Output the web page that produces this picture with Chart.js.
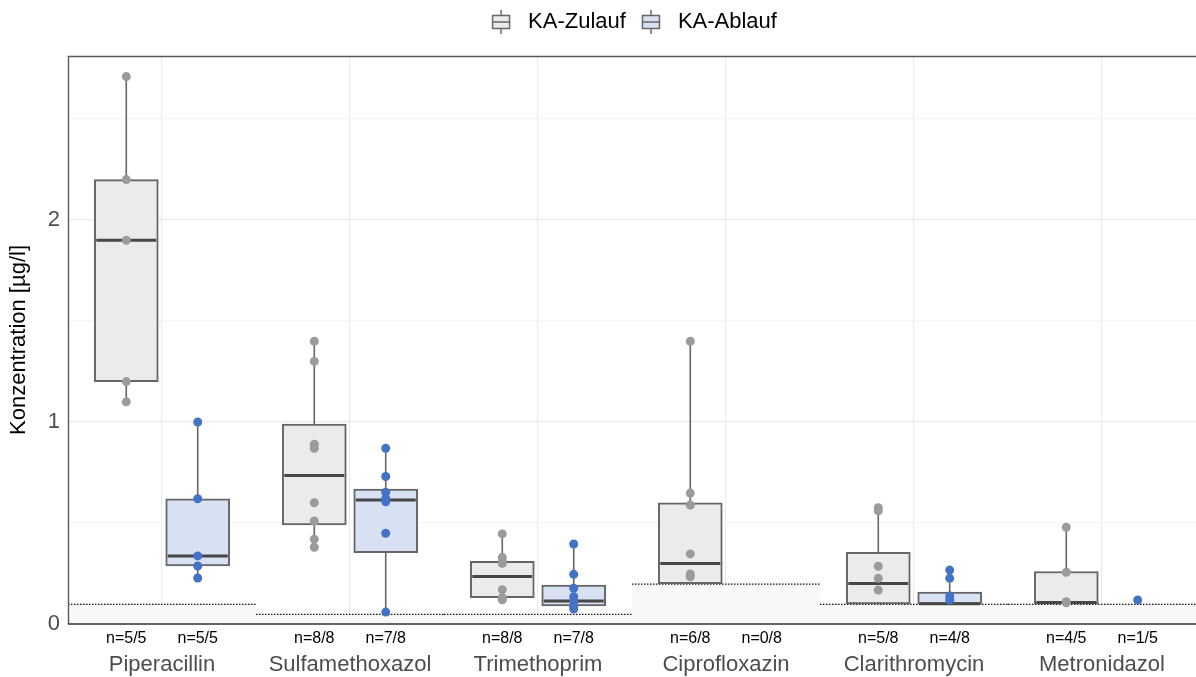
<!DOCTYPE html>
<html>
<head>
<meta charset="utf-8">
<script src="https://cdn.jsdelivr.net/npm/chart.js@4.4.0/dist/chart.umd.min.js"></script>
<style>
html, body { margin: 0; padding: 0; background: #fff; }
</style>
</head>
<body>
<canvas id="chart" width="1196" height="677"></canvas>
<script>
/* ===== Data ===== */

var categories = ['Piperacillin', 'Sulfamethoxazol', 'Trimethoprim', 'Ciprofloxazin', 'Clarithromycin', 'Metronidazol'];
var nZulauf = ['n=5/5', 'n=8/8', 'n=8/8', 'n=6/8', 'n=5/8', 'n=4/5'];
var nAblauf = ['n=5/5', 'n=7/8', 'n=7/8', 'n=0/8', 'n=4/8', 'n=1/5'];
var loq = [0.1, 0.05, 0.05, 0.2, 0.1, 0.1];

var yTicks = [0, 0.5, 1, 1.5, 2, 2.5];

// KA-Zulauf box stats
var zulaufMin = [1.1, 0.38, 0.12, 0.2, 0.1, 0.1];
var zulaufQ1 = [1.2, 0.49, 0.13, 0.2, 0.1, 0.1];
var zulaufMedian = [1.9, 0.735, 0.235, 0.3, 0.2, 0.107];
var zulaufQ3 = [2.2, 0.99, 0.31, 0.6, 0.355, 0.26];
var zulaufMax = [2.71, 1.4, 0.446, 1.4, 0.576, 0.48];

// KA-Ablauf box stats
var ablaufMin = [0.228, 0.06, 0.074, null, 0.1, null];
var ablaufQ1 = [0.288, 0.353, 0.089, null, 0.1, null];
var ablaufMedian = [0.337, 0.614, 0.114, null, 0.1, null];
var ablaufQ3 = [0.62, 0.668, 0.193, null, 0.158, null];
var ablaufMax = [1.0, 0.87, 0.396, null, 0.267, null];

// single measurements
var zulaufPoints = [
    [2.71, 2.2, 1.9, 1.2, 1.1],
    [1.4, 1.3, 0.89, 0.87, 0.6, 0.51, 0.42, 0.38],
    [0.446, 0.33, 0.31, 0.3, 0.17, 0.13, 0.125, 0.12],
    [1.4, 0.648, 0.589, 0.347, 0.248, 0.234],
    [0.576, 0.56, 0.286, 0.226, 0.168],
    [0.479, 0.256, 0.11, 0.105]
];
var ablaufPoints = [
    [1.0, 0.62, 0.337, 0.287, 0.228],
    [0.87, 0.73, 0.652, 0.62, 0.605, 0.449, 0.059],
    [0.396, 0.246, 0.177, 0.135, 0.11, 0.086, 0.074],
    [],
    [0.267, 0.226, 0.139, 0.119],
    [0.119]
];

/* ===== Style ===== */

var OFFSET = 0.19;
var LEGEND_HEIGHT = 56;

var colors = {
    zulaufFill: '#ebebeb',
    ablaufFill: '#d7e1f3',
    boxLine: '#666666',
    median: '#474747',
    zulaufPoint: '#9b9b9b',
    ablaufPoint: '#4472c4',
    text: '#4d4d4d',
    gridMajor: '#ebebeb',
    gridMinor: '#f5f5f5',
    loqFill: '#f8f8f8',
};

Chart.defaults.font.family = '"Liberation Sans", Arial, sans-serif';

/* ===== Helpers ===== */

function boxData(q1, q3, shift) {
    var out = [];
    categories.forEach(function(c, i) {
        if (q1[i] === null) return;
        out.push({ x: i + shift, y: [q1[i], q3[i]] });
    });
    return out;
}

function pointData(points, shift) {
    var out = [];
    points.forEach(function(list, i) {
        list.forEach(function(v) { out.push({ x: i + shift, y: v }); });
    });
    return out;
}

var nPositions = [];
var nTexts = [];
categories.forEach(function(c, i) {
    nPositions.push(i - OFFSET, i + OFFSET);
    nTexts.push(nZulauf[i], nAblauf[i]);
});

// small boxplot key, drawn a little right of the canvas origin
function legendGlyph(fill) {
    var c = document.createElement('canvas');
    c.width = 30;
    c.height = 24;
    var g = c.getContext('2d');
    var cx = 14;
    g.strokeStyle = colors.boxLine;
    g.lineWidth = 1.5;
    g.beginPath(); g.moveTo(cx, 0); g.lineTo(cx, 24); g.stroke();
    g.fillStyle = fill;
    g.fillRect(cx - 8.5, 5.5, 17, 13);
    g.strokeRect(cx - 8.5, 5.5, 17, 13);
    g.beginPath(); g.moveTo(cx - 8.5, 12); g.lineTo(cx + 8.5, 12); g.stroke();
    return c;
}

/* ===== Plugin: LOQ bands, whiskers, medians, panel border ===== */

var boxPlugin = {
    id: 'boxExtras',
    beforeLayout: function(chart) {
        // fixed legend band height
        var legend = chart.legend;
        if (legend && !legend._fixedHeight) {
            var fit = legend.fit;
            legend.fit = function() {
                fit.call(this);
                this.height = LEGEND_HEIGHT;
            };
            legend._fixedHeight = true;
        }
    },
    beforeDatasetsDraw: function(chart) {
        var ctx = chart.ctx, xs = chart.scales.x, ys = chart.scales.y;
        ctx.save();
        loq.forEach(function(v, i) {
            var x0 = xs.getPixelForValue(i - 0.5), x1 = xs.getPixelForValue(i + 0.5);
            var y0 = ys.getPixelForValue(0), y1 = ys.getPixelForValue(v);
            ctx.fillStyle = colors.loqFill;
            ctx.fillRect(x0, y1, x1 - x0, y0 - y1);
            ctx.strokeStyle = '#111111';
            ctx.lineWidth = 1.3;
            ctx.setLineDash([1.5, 1.5]);
            ctx.beginPath();
            ctx.moveTo(x0, y1 + 0.5);
            ctx.lineTo(x1, y1 + 0.5);
            ctx.stroke();
        });
        ctx.restore();
    },
    afterDatasetDraw: function(chart, args) {
        var ds = chart.data.datasets[args.index];
        if (!ds.stats) return;
        var ctx = chart.ctx, xs = chart.scales.x, ys = chart.scales.y;
        var s = ds.stats;
        var half = 30;
        ctx.save();
        categories.forEach(function(c, i) {
            if (s.q1[i] === null) return;
            var cx = xs.getPixelForValue(i + s.shift);
            ctx.strokeStyle = colors.boxLine;
            ctx.lineWidth = 1.6;
            ctx.beginPath();
            ctx.moveTo(cx, ys.getPixelForValue(s.q3[i]));
            ctx.lineTo(cx, ys.getPixelForValue(s.max[i]));
            ctx.moveTo(cx, ys.getPixelForValue(s.q1[i]));
            ctx.lineTo(cx, ys.getPixelForValue(s.min[i]));
            ctx.stroke();
            ctx.strokeStyle = colors.median;
            ctx.lineWidth = 3;
            var my = ys.getPixelForValue(s.median[i]);
            ctx.beginPath();
            ctx.moveTo(cx - half, my);
            ctx.lineTo(cx + half, my);
            ctx.stroke();
        });
        ctx.restore();
    },
    afterDraw: function(chart) {
        // panel border: top and left, the right side runs off the page
        var a = chart.chartArea, ctx = chart.ctx;
        ctx.save();
        ctx.strokeStyle = '#5a5a5a';
        ctx.lineWidth = 1.4;
        ctx.beginPath();
        ctx.moveTo(chart.width, a.top + 0.5);
        ctx.lineTo(a.left + 0.5, a.top + 0.5);
        ctx.lineTo(a.left + 0.5, a.bottom);
        ctx.stroke();
        ctx.strokeStyle = '#333333';
        ctx.lineWidth = 1.6;
        ctx.beginPath();
        ctx.moveTo(a.left, a.bottom);
        ctx.lineTo(chart.width, a.bottom);
        ctx.stroke();
        ctx.restore();
    }
};

/* ===== Chart ===== */

new Chart(document.getElementById('chart'), {
    type: 'bar',
    data: {
        datasets: [
            {
                type: 'scatter',
                label: 'KA-Zulauf Werte',
                data: pointData(zulaufPoints, -OFFSET),
                backgroundColor: colors.zulaufPoint,
                borderWidth: 0,
                pointRadius: 4.5,
                order: 0,
            },
            {
                type: 'scatter',
                label: 'KA-Ablauf Werte',
                data: pointData(ablaufPoints, OFFSET),
                backgroundColor: colors.ablaufPoint,
                borderWidth: 0,
                pointRadius: 4.5,
                order: 0,
            },
            {
                label: 'KA-Zulauf',
                data: boxData(zulaufQ1, zulaufQ3, -OFFSET),
                backgroundColor: colors.zulaufFill,
                borderColor: colors.boxLine,
                borderWidth: 2,
                borderSkipped: false,
                grouped: false,
                barPercentage: 1,
                categoryPercentage: 1,
                maxBarThickness: 64,
                order: 1,
                stats: { shift: -OFFSET, min: zulaufMin, q1: zulaufQ1, median: zulaufMedian, q3: zulaufQ3, max: zulaufMax },
            },
            {
                label: 'KA-Ablauf',
                data: boxData(ablaufQ1, ablaufQ3, OFFSET),
                backgroundColor: colors.ablaufFill,
                borderColor: colors.boxLine,
                borderWidth: 2,
                borderSkipped: false,
                grouped: false,
                barPercentage: 1,
                categoryPercentage: 1,
                maxBarThickness: 64,
                order: 1,
                stats: { shift: OFFSET, min: ablaufMin, q1: ablaufQ1, median: ablaufMedian, q3: ablaufQ3, max: ablaufMax },
            },
        ],
    },
    options: {
        responsive: false,
        animation: false,
        layout: { autoPadding: false, padding: { top: 0, right: -1, left: 0, bottom: 0 } },
        plugins: {
            tooltip: { enabled: false },
            legend: {
                position: 'top',
                fullSize: false,
                labels: {
                    usePointStyle: true,
                    pointStyleWidth: 30,
                    color: '#1a1a1a',
                    font: { size: 22 },
                    padding: 11,
                    generateLabels: function() {
                        return [
                            { text: 'KA-Zulauf', pointStyle: legendGlyph(colors.zulaufFill), lineWidth: 0, strokeStyle: 'transparent', fillStyle: colors.zulaufFill, datasetIndex: 2 },
                            { text: 'KA-Ablauf', pointStyle: legendGlyph(colors.ablaufFill), lineWidth: 0, strokeStyle: 'transparent', fillStyle: colors.ablaufFill, datasetIndex: 3 },
                        ];
                    },
                },
            },
        },
        scales: {
            x: {
                type: 'linear',
                position: 'bottom',
                min: -0.5,
                max: 5.5,
                offset: false,
                weight: 1,
                afterBuildTicks: function(axis) {
                    axis.ticks = categories.map(function(c, i) { return { value: i }; });
                },
                afterFit: function(axis) { axis.height = 27; },
                ticks: {
                    autoSkip: false,
                    maxRotation: 0,
                    color: colors.text,
                    font: { size: 22 },
                    padding: 2,
                    callback: function(v, i) { return categories[i]; },
                },
                grid: { color: colors.gridMajor, drawTicks: false, offset: false, lineWidth: 1.2 },
                border: { display: false },
            },
            xn: {
                type: 'linear',
                position: 'bottom',
                min: -0.5,
                max: 5.5,
                offset: false,
                weight: 0,
                afterBuildTicks: function(axis) {
                    axis.ticks = nPositions.map(function(v) { return { value: v }; });
                },
                afterFit: function(axis) { axis.height = 26; },
                ticks: {
                    autoSkip: false,
                    maxRotation: 0,
                    color: '#000000',
                    font: { size: 16 },
                    padding: 5,
                    callback: function(v, i) { return nTexts[i]; },
                },
                grid: { display: false, drawTicks: false, offset: false },
                border: { display: false },
            },
            y: {
                type: 'linear',
                min: 0,
                max: 2.812,
                afterBuildTicks: function(axis) {
                    axis.ticks = yTicks.map(function(v) { return { value: v }; });
                },
                afterFit: function(axis) { axis.width = 68; },
                ticks: {
                    color: colors.text,
                    font: { size: 22 },
                    padding: 8,
                    callback: function(v) { return Number.isInteger(v) ? String(v) : ''; },
                },
                grid: {
                    drawTicks: false,
                    lineWidth: 1.2,
                    color: function(ctx) {
                        if (!ctx.tick) return colors.gridMajor;
                        return Number.isInteger(ctx.tick.value) ? colors.gridMajor : colors.gridMinor;
                    },
                },
                border: { display: false },
                title: {
                    display: true,
                    text: 'Konzentration [µg/l]',
                    color: '#000000',
                    font: { size: 22 },
                    padding: { top: 6, bottom: 0 },
                },
            },
        },
    },
    plugins: [boxPlugin],
});
</script>
</body>
</html>
